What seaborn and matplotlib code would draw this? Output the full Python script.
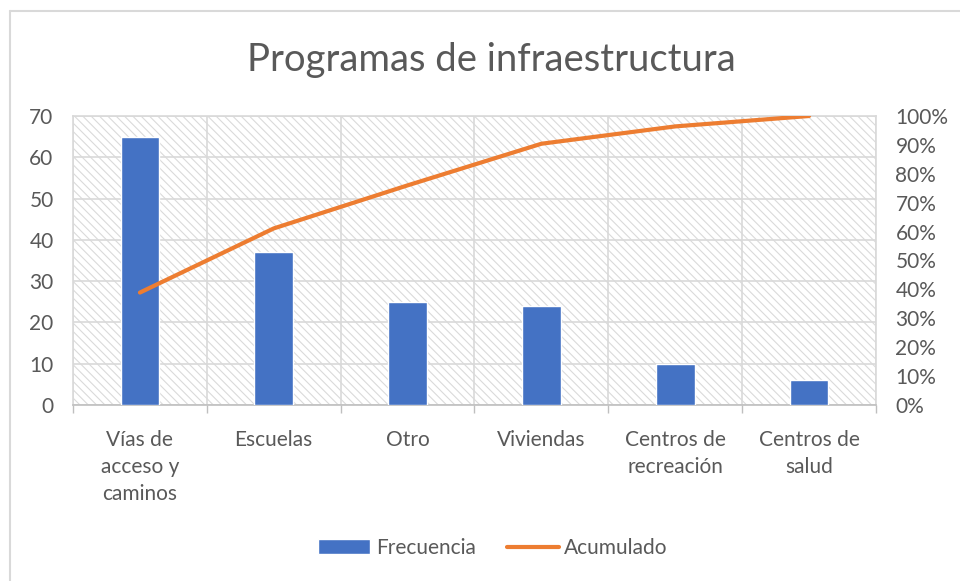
import matplotlib
matplotlib.use("Agg")
import matplotlib.pyplot as plt
import seaborn as sns
import pandas as pd
import numpy as np
from matplotlib.lines import Line2D
from matplotlib.patches import Rectangle
from matplotlib.ticker import MultipleLocator, FixedLocator, PercentFormatter

categories = ["Vías de\nacceso y\ncaminos", "Escuelas", "Otro", "Viviendas",
              "Centros de\nrecreación", "Centros de\nsalud"]
frecuencia = [65, 37, 25, 24, 10, 6]
acumulado = [38.9, 61.1, 76.0, 90.4, 96.4, 100.0]
title = "Programas de infraestructura"

sns.set_theme(style="white")
plt.rcParams["font.family"] = ["Lato", "DejaVu Sans"]
plt.rcParams["hatch.color"] = "#dadada"
plt.rcParams["hatch.linewidth"] = 0.8

TXT = "#595959"
GRID = "#d9d9d9"
BLUE = "#4472C4"
ORANGE = "#ED7D31"
FS = 15

df = pd.DataFrame({"cat": categories, "pos": np.arange(len(categories)),
                   "freq": frecuencia, "acum": acumulado})

fig = plt.figure(figsize=(9.6, 5.81), dpi=100)
ax = fig.add_axes([73/960, 1-405/581, (876-73)/960, (405-116)/581])

bg = Rectangle((0, 0), 1, 1, transform=ax.transAxes, facecolor="white",
               edgecolor="#dadada", linewidth=0, hatch="\\\\\\\\", zorder=0.1)
ax.add_patch(bg)

sns.barplot(data=df, x="pos", y="freq", color=BLUE, width=0.29, ax=ax,
            label="Frecuencia", saturation=1, zorder=3)
ax.set_xlim(-0.5, len(categories) - 0.5)
ax.set_ylim(0, 70)
ax.yaxis.set_major_locator(MultipleLocator(10))
ax.set_xlabel("")
ax.set_ylabel("")

ax.xaxis.set_major_locator(FixedLocator(list(df["pos"])))
ax.set_xticklabels(categories, color=TXT, fontsize=FS, linespacing=1.45)
ax.xaxis.set_minor_locator(FixedLocator(list(np.arange(len(categories) + 1) - 0.5)))
ax.tick_params(axis="x", which="major", length=0, pad=18)
ax.tick_params(axis="x", which="minor", length=6, width=1, color="#bfbfbf", direction="out", bottom=True)
ax.tick_params(axis="y", length=0, pad=14, labelsize=FS, labelcolor=TXT)
ax.grid(True, axis="y", which="major", color=GRID, lw=1.2, zorder=1)
ax.grid(True, axis="x", which="minor", color=GRID, lw=1.2, zorder=1)
ax.set_axisbelow(True)
for s in ax.spines.values():
    s.set_color(GRID)
    s.set_linewidth(1.2)
ax.spines["bottom"].set_color("#bfbfbf")

ax2 = ax.twinx()
sns.lineplot(data=df, x="pos", y="acum", color=ORANGE, lw=3, ax=ax2,
             label="Acumulado", solid_capstyle="round", zorder=4)
ax2.set_ylim(0, 100)
ax2.yaxis.set_major_locator(MultipleLocator(10))
ax2.yaxis.set_major_formatter(PercentFormatter(decimals=0))
ax2.tick_params(axis="y", length=0, pad=14, labelsize=FS, labelcolor=TXT)
ax2.set_ylabel("")
ax2.set_xlabel("")
ax2.grid(False)
for s in ax2.spines.values():
    s.set_visible(False)
if ax2.get_legend():
    ax2.get_legend().remove()
if ax.get_legend():
    ax.get_legend().remove()
ax.set_xlim(-0.5, len(categories) - 0.5)

h1, l1 = ax.get_legend_handles_labels()
h2, l2 = ax2.get_legend_handles_labels()
leg = fig.legend(h1 + h2, l1 + l2, loc="center", bbox_to_anchor=(493/960, 1-548/581),
                 ncol=2, frameon=False, fontsize=FS, handlelength=2.5, handleheight=0.7,
                 handletextpad=0.25, columnspacing=1.5)
for t in leg.get_texts():
    t.set_color(TXT)

fig.text(491/960, 1-60/581, title, ha="center", va="center", fontsize=27.5,
         color=TXT, fontweight="normal")

fig.add_artist(Line2D([9.5/960, 9.5/960], [0, 1-10.5/581], transform=fig.transFigure,
                      color=GRID, lw=1.5))
fig.add_artist(Line2D([9.5/960, 1], [1-10.5/581, 1-10.5/581], transform=fig.transFigure,
                      color=GRID, lw=1.5))

fig.savefig("out.png", dpi=100)
